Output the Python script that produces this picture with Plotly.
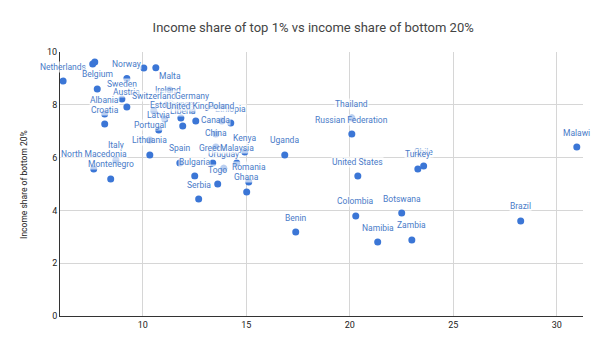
import plotly.graph_objects as go

# Country, income share held by the top 1% (%), income share held by the bottom 20% (%)
countries = [
    "Slovenia", "Czech Republic", "Denmark", "Slovak Republic",
    "Netherlands", "Belgium", "Norway", "Sweden", "Malta", "Ireland",
    "Austria", "Albania", "Croatia", "France", "Switzerland", "Germany",
    "Ethiopia", "Estonia", "Latvia", "Liberia", "United Kingdom", "Poland",
    "Canada", "China", "Portugal", "Lithuania", "Italy", "North Macedonia",
    "Montenegro", "Uruguay", "Spain", "Greece", "Malaysia", "Kenya",
    "Bulgaria", "Togo", "Serbia", "Romania", "Ghana", "Uganda", "Benin",
    "Thailand", "Russian Federation", "United States", "Colombia", "Namibia",
    "Botswana", "Zambia", "Chile", "Turkey", "Brazil", "Malawi",
]
top1_share = [
    7.58, 7.68, 10.05, 10.63,
    6.15, 7.80, 9.23, 8.99, 11.30, 11.20,
    9.23, 8.16, 8.16, 11.84, 10.53, 12.40,
    14.25, 11.06, 10.77, 11.93, 12.56, 13.82,
    13.53, 13.53, 10.34, 10.34, 8.70, 7.63,
    8.45, 13.91, 11.79, 13.38, 14.54, 14.93,
    12.51, 13.62, 12.70, 15.12, 15.02, 16.86, 17.39,
    20.10, 20.10, 20.39, 20.29, 21.35,
    22.51, 23.00, 23.57, 23.29, 28.26, 30.97,
]
bottom20_share = [
    9.55, 9.62, 9.39, 9.40,
    8.90, 8.60, 9.00, 8.22, 8.56, 8.03,
    7.92, 7.65, 7.27, 7.50, 7.77, 7.77,
    7.31, 7.46, 7.05, 7.20, 7.39, 7.39,
    6.89, 6.40, 6.67, 6.10, 5.91, 5.57,
    5.19, 5.60, 5.80, 5.80, 5.80, 6.21,
    5.30, 5.00, 4.43, 5.08, 4.70, 6.10, 3.18,
    7.50, 6.89, 5.30, 3.79, 2.80,
    3.90, 2.88, 5.68, 5.57, 3.60, 6.40,
]

x_ticks = [10, 15, 20, 25, 30]
y_ticks = [0, 2, 4, 6, 8, 10]

MARKER_BLUE = "#3b76d6"
LABEL_BLUE = "#4a7bc8"
LABEL_LIMIT = 9.2  # labels of points above this would run past the top of the plot

fig = go.Figure()
fig.add_trace(go.Scatter(
    x=top1_share, y=bottom20_share, mode="markers",
    marker=dict(color=MARKER_BLUE, size=7, line=dict(width=0)),
    hovertext=countries, hoverinfo="text+x+y", showlegend=False,
))

annotations = []
for name, xv, yv in zip(countries, top1_share, bottom20_share):
    if yv > LABEL_LIMIT:
        continue
    annotations.append(dict(
        x=xv, y=yv, xref="x", yref="y", text=name, showarrow=False,
        yshift=14.5, xanchor="center", yanchor="middle",
        font=dict(family="Roboto", size=8.5, color=LABEL_BLUE),
        bgcolor="rgba(255,255,255,0.65)", borderpad=0,
    ))

annotations.append(dict(
    xref="paper", yref="paper", x=-0.069, y=0.5, text="Income share of bottom 20%",
    textangle=-90, showarrow=False, xanchor="center", yanchor="middle",
    font=dict(family="Roboto", size=8.5, color="#222222"),
))

fig.update_layout(
    width=600, height=341,
    margin=dict(l=60, r=17, t=52, b=25),
    paper_bgcolor="white", plot_bgcolor="white",
    title=dict(text="Income share of top 1% vs income share of bottom 20%",
               x=0.522, xanchor="center", y=0.92, yanchor="middle",
               font=dict(family="Roboto", size=13, color="#444444")),
    annotations=annotations,
    xaxis=dict(range=[6.0, 31.27], tickvals=x_ticks, showgrid=True,
               gridcolor="#d6d6d6", gridwidth=1, zeroline=False,
               showline=True, linecolor="#333333", linewidth=1,
               ticks="", tickfont=dict(family="Roboto", size=9, color="#222222")),
    yaxis=dict(range=[0, 10], tickvals=y_ticks, showgrid=True,
               gridcolor="#d6d6d6", gridwidth=1, zeroline=False,
               showline=True, linecolor="#333333", linewidth=1,
               ticks="", tickfont=dict(family="Roboto", size=9, color="#222222")),
    font=dict(family="Roboto"),
)

fig.write_html("out.html")
